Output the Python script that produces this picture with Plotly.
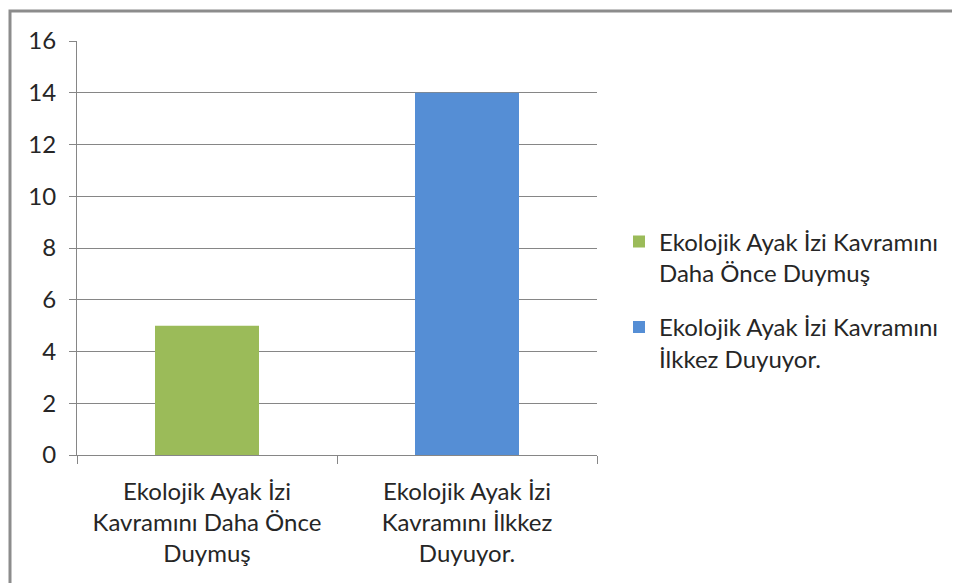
import plotly.graph_objects as go

categories = ["Ekolojik Ayak İzi<br>Kavramını Daha Önce<br>Duymuş",
              "Ekolojik Ayak İzi<br>Kavramını İlkkez<br>Duyuyor."]
series_names = ["Ekolojik Ayak İzi Kavramını<br>Daha Önce Duymuş",
                "Ekolojik Ayak İzi Kavramını<br>İlkkez Duyuyor."]
values = [5, 14]
colors = ["#9BBB59", "#558ED5"]
y_ticks = [0, 2, 4, 6, 8, 10, 12, 14, 16]

FONT = "Lato"
FS = 24
OFF = 8  # page body margin
fig = go.Figure()
for i, (cat, name, v, c) in enumerate(zip(categories, series_names, values, colors)):
    fig.add_trace(go.Bar(x=[cat], y=[v], name=name, legendgroup=f"g{i}",
                         marker=dict(color=c, line=dict(width=0)), width=0.4))

W, H = 960, 583
L, R, T, B = 77 - OFF, 597 - OFF, 41 - OFF, 455 - OFF
fig.update_layout(
    width=W, height=H,
    barmode="overlay",
    paper_bgcolor="white", plot_bgcolor="white",
    margin=dict(l=L, r=W - R, t=T, b=H - B, pad=0),
    font=dict(family=FONT, size=FS, color="#262626"),
    showlegend=True,
    legend=dict(x=(619 - OFF - L) / (R - L), y=(455 - 300) / (455 - 41),
                xanchor="left", yanchor="middle", valign="top",
                font=dict(family=FONT, size=FS, color="#262626"),
                tracegroupgap=20, itemwidth=30, bgcolor="rgba(0,0,0,0)"),
    xaxis=dict(type="category", categoryorder="array", categoryarray=categories,
               showline=True, linecolor="#868686", linewidth=1,
               ticks="outside", tickson="boundaries", ticklen=8, tickcolor="#868686",
               showgrid=False, ticklabelstandoff=15, range=[-0.5, 1.5]),
    yaxis=dict(range=[0, 16], tickvals=y_ticks, showgrid=True, gridcolor="#868686", gridwidth=1,
               showline=True, linecolor="#868686", linewidth=1,
               ticks="outside", ticklen=7, tickcolor="#868686", zeroline=False,
               ticklabelstandoff=8),
)
fig.add_shape(type="rect", xref="paper", yref="paper",
              x0=(10 - OFF - L) / (R - L), x1=3, y0=-1, y1=(B - (11 - OFF)) / (B - T),
              line=dict(color="#8C8C8C", width=3), fillcolor="rgba(0,0,0,0)", layer="above")
fig.write_html("out.html")
